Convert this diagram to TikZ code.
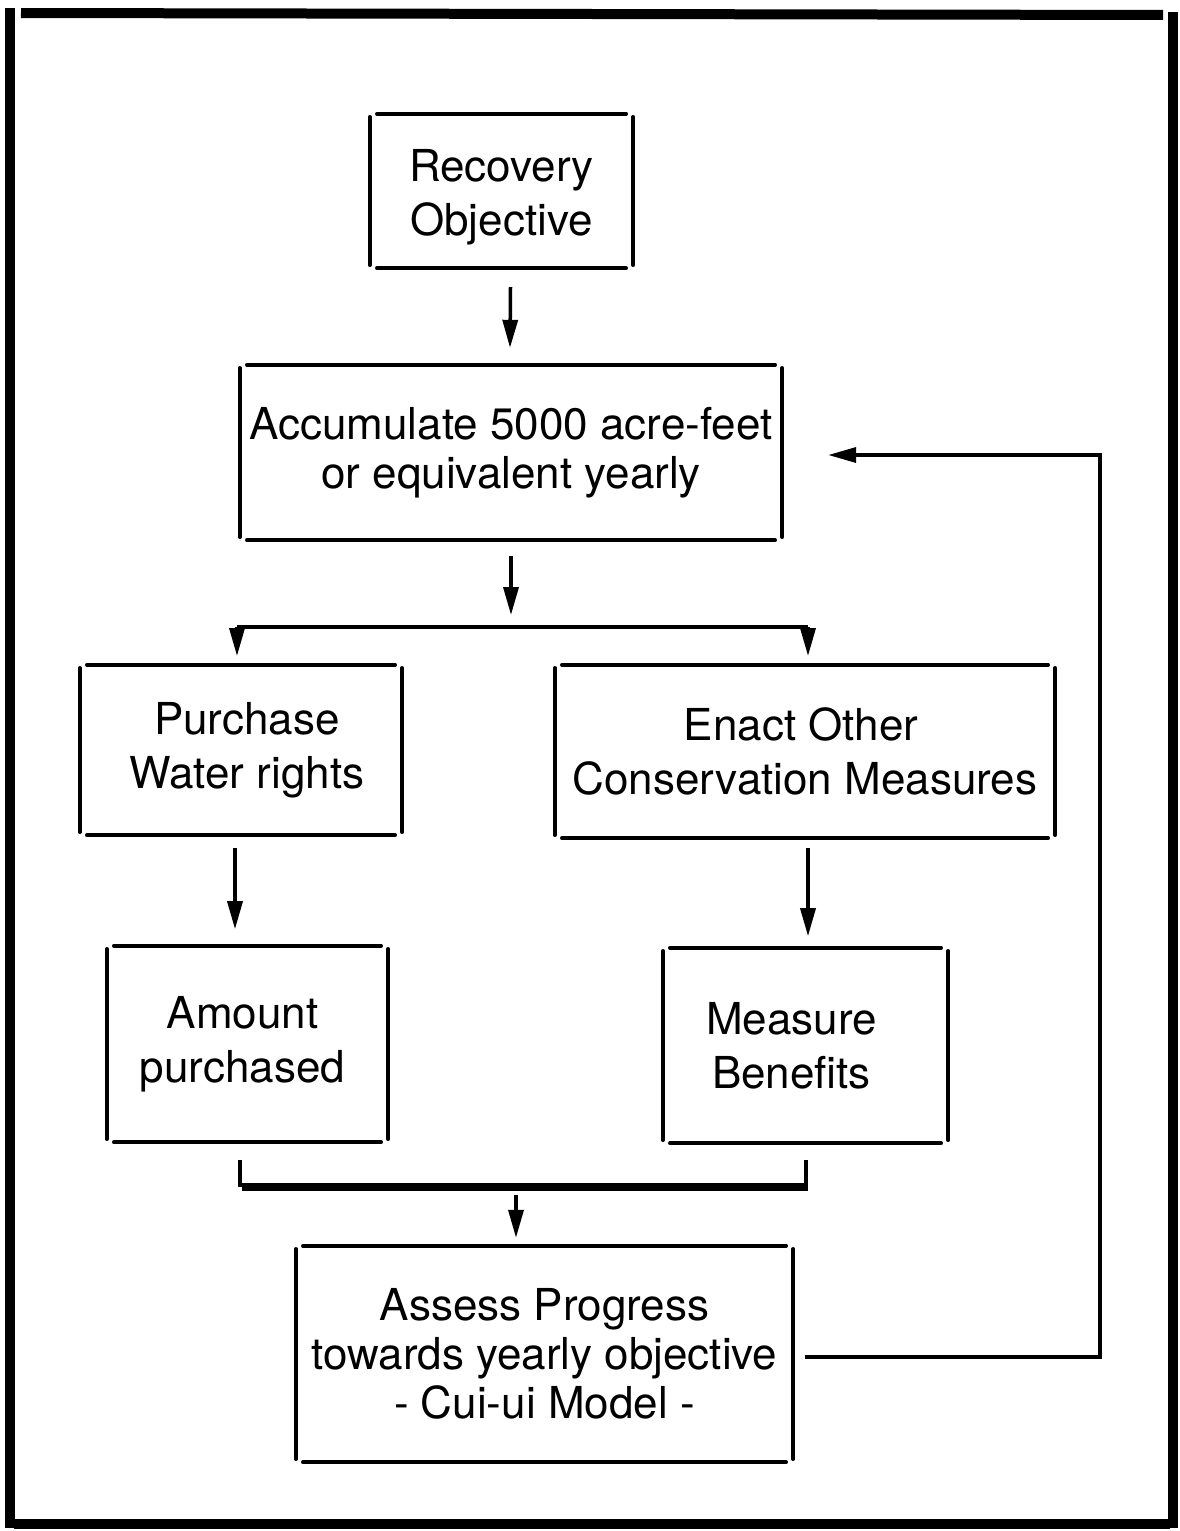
\documentclass[tikz,border=0pt]{standalone}
\usepackage{fontspec}
\setmainfont{TeX Gyre Heros}
\usetikzlibrary{arrows.meta}
\tikzset{
  boxnode/.style={draw=none, inner sep=0pt, align=center, font=\fontsize{44}{54}\selectfont},
  sideline/.style={line width=3.5pt, line cap=round},
  conn/.style={line width=3.5pt},
  arr/.style={line width=3.5pt, -{Triangle[length=28pt,width=15pt]}},
  frameline/.style={line width=10pt}
}
\newcommand{\gapbox}[1]{%
  \draw[sideline] ([xshift=7pt]#1.north west) -- ([xshift=-7pt]#1.north east);
  \draw[sideline] ([xshift=7pt]#1.south west) -- ([xshift=-7pt]#1.south east);
  \draw[sideline] ([yshift=-3pt]#1.north west) -- ([yshift=3pt]#1.south west);
  \draw[sideline] ([yshift=-3pt]#1.north east) -- ([yshift=3pt]#1.south east);
}
\begin{document}
\begin{tikzpicture}[x=1pt,y=-1pt]
\useasboundingbox (0,0) rectangle (1180,1531);
% outer frame
\draw[frameline] (10,8) -- (10,1528);
\draw[frameline] (21,13) -- (1163,15);
\draw[frameline] (1173,12) -- (1173,1528);
\draw[frameline] (14,1524) -- (1170,1524);

% boxes
\node[boxnode, minimum width=263pt, minimum height=154pt] (rec) at (501.5,191) {\rule{0pt}{44pt}Recovery\\Objective};
\node[boxnode, minimum width=542pt, minimum height=175pt, font=\fontsize{44}{49}\selectfont] (acc) at (511,452.5) {Accumulate 5000 acre-feet\\or equivalent yearly};
\node[boxnode, minimum width=322pt, minimum height=170pt] (pur) at (241,750) {\hspace*{12pt}Purchase\\\hspace*{12pt}Water rights};
\node[boxnode, minimum width=500pt, minimum height=173pt] (ena) at (805,751.5) {\hspace*{-8pt}Enact Other\\Conservation Measures};
\node[boxnode, minimum width=281pt, minimum height=196pt] (amt) at (247.5,1044) {\hspace*{-10pt}Amount\\\hspace*{-10pt}purchased};
\node[boxnode, minimum width=285pt, minimum height=195pt] (mea) at (805.5,1045.5) {\hspace*{-28pt}Measure\\\hspace*{-28pt}Benefits};
\node[boxnode, minimum width=497pt, minimum height=216pt, font=\fontsize{44}{49}\selectfont] (ass) at (544.5,1354) {Assess Progress\\towards yearly objective\\- Cui-ui Model -};
\gapbox{rec}
\gapbox{acc}
\gapbox{pur}
\gapbox{ena}
\gapbox{amt}
\gapbox{mea}
\gapbox{ass}

% coordinates
\coordinate (split) at (511,627);
\coordinate (splitL) at (237,627);
\coordinate (splitR) at (808,627);
\coordinate (fb) at (1100,455);

% connectors
\draw[arr] ([xshift=9pt,yshift=-19pt]rec.south) -- ([xshift=-1pt,yshift=17pt]acc.north);
\draw[arr] ([yshift=-16pt]acc.south) -- ([yshift=12pt]split);
\draw[conn] (splitL) -- (splitR);
\draw[arr] (splitL) -- ++(0,29);
\draw[arr] (splitR) -- ++(0,29);
\draw[arr] ([xshift=-6pt,yshift=-13pt]pur.south) -- ++(0,81);
\draw[arr] ([xshift=3pt,yshift=-10pt]ena.south) -- ++(0,88);
\draw[conn] ([xshift=-7.5pt,yshift=-18pt]amt.south) |- ([xshift=0.5pt,yshift=-42pt]mea.south) -- ([xshift=0.5pt,yshift=-17pt]mea.south);
\draw[conn] ([xshift=-5.5pt,yshift=-47pt]amt.south) -- ([xshift=2.5pt,yshift=-46pt]mea.south);
\draw[arr] ([xshift=-28.5pt,yshift=51pt]ass.north) -- ([xshift=-28.5pt,yshift=8pt]ass.north);
\draw[arr] ([xshift=12pt,yshift=-3pt]ass.east) -| (fb) -- ([xshift=46pt,yshift=-2.5pt]acc.east);
\end{tikzpicture}
\end{document}
